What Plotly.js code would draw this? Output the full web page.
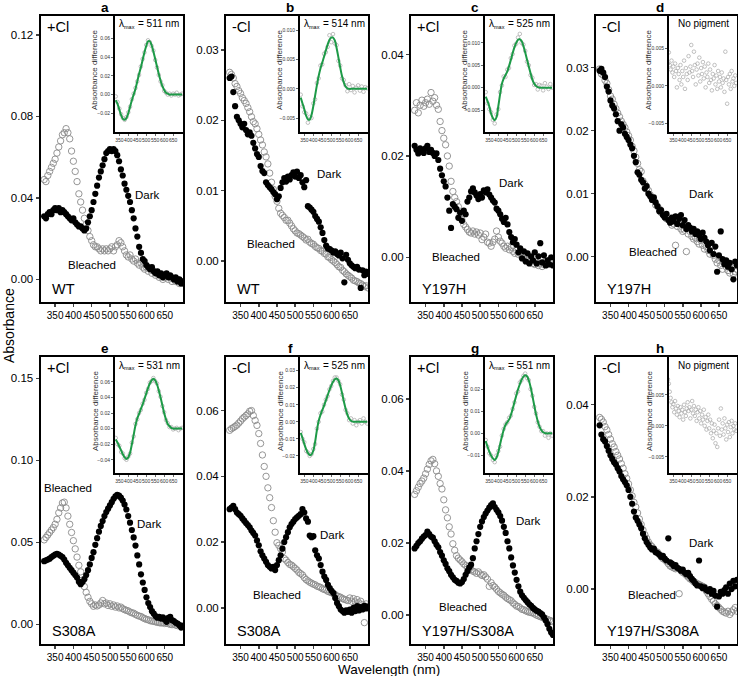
<!DOCTYPE html>
<html><head><meta charset="utf-8">
<script src="https://cdn.plot.ly/plotly-3.0.1.min.js"></script>
<style>html,body{margin:0;padding:0;background:#fff}#chart{width:738px;height:676px}</style>
</head><body><div id="chart"></div>
<script>
// ---------------- DATA ----------------
const wavelength = [320,325,330,335,340,345,350,355,360,365,370,375,380,385,390,395,400,405,410,415,420,425,430,435,440,445,450,455,460,465,470,475,480,485,490,495,500,505,510,515,520,525,530,535,540,545,550,555,560,565,570,575,580,585,590,595,600,605,610,615,620,625,630,635,640,645,650,655,660,665,670,675,680,685,690,695,700];
const insetWavelength = [330,340,350,360,370,380,390,400,410,420,430,440,450,460,470,480,490,500,510,520,530,540,550,560,570,580,590,600,610,620,630,640,650,660,670,680,690,700];
const panelLetters = ['a','b','c','d','e','f','g','h'];
const chlorideLabels = ['+Cl','-Cl','+Cl','-Cl','+Cl','-Cl','+Cl','-Cl'];
const sampleLabels = ['WT','WT','Y197H','Y197H','S308A','S308A','Y197H/S308A','Y197H/S308A'];
const lambdaMax = [511,514,525,null,531,525,551,null];
const xTicks = [350,400,450,500,550,600,650];

const darkA = [0.031,0.030,0.032,0.033,0.032,0.034,0.035,0.034,0.035,0.033,
0.034,0.033,0.032,0.031,0.030,0.029,0.030,0.028,0.027,0.026,
0.026,0.025,0.024,0.025,0.028,0.031,0.034,0.038,0.042,0.046,
0.050,0.053,0.056,0.059,0.062,0.063,0.064,0.063,0.064,0.063,
0.061,0.058,0.054,0.051,0.047,0.044,0.041,0.038,0.034,0.030,
0.025,0.021,0.016,0.013,0.010,0.009,0.007,0.006,0.005,0.006,
0.004,0.003,0.004,0.002,0.003,0.001,0.002,0.003,0.001,0.002,
0.001,0.000,0.001,-0.001,0.000,-0.002,-0.001];
const bleachedA = [0.049,0.048,0.051,0.053,0.055,0.057,0.059,0.062,0.065,0.068,
0.071,0.072,0.074,0.072,0.069,0.063,0.058,0.053,0.048,0.042,
0.038,0.034,0.030,0.027,0.024,0.021,0.019,0.017,0.016,0.016,
0.015,0.014,0.015,0.014,0.015,0.014,0.015,0.016,0.014,0.016,
0.017,0.019,0.018,0.016,0.014,0.012,0.011,0.012,0.010,0.009,
0.010,0.008,0.007,0.008,0.006,0.005,0.006,0.004,0.005,0.003,
0.004,0.002,0.003,0.001,0.002,0.000,0.001,0.002,0.000,0.001,
-0.001,0.000,-0.001,0.000,-0.002,-0.001,-0.002];

const darkB = [0.0260,0.0262,0.0240,0.0220,0.0205,0.0200,0.0195,0.0190,0.0195,0.0186,
0.0180,0.0183,0.0178,0.0168,0.0160,0.0152,0.0148,0.0135,0.0128,0.0125,
0.0112,0.0108,0.0105,0.0102,0.0098,0.0095,0.0088,0.0092,0.0104,0.0112,
0.0118,0.0113,0.0120,0.0116,0.0122,0.0126,0.0120,0.0127,0.0118,0.0122,
0.0112,0.0105,0.0115,0.0078,0.0076,0.0073,0.0070,0.0064,0.0060,0.0056,
0.0048,0.0040,0.0030,0.0022,0.0018,0.0017,0.0015,0.0012,0.0014,0.0010,
0.0008,0.0012,0.0004,-0.0030,0.0009,0.0002,-0.0003,-0.0006,-0.0008,-0.0010,
-0.0008,-0.0012,-0.0038,-0.0013,-0.0020,-0.0015,-0.0018];
const bleachedB = [0.0268,0.0265,0.0260,0.0252,0.0248,0.0242,0.0238,0.0232,0.0228,0.0224,
0.0218,0.0212,0.0205,0.0198,0.0195,0.0188,0.0180,0.0172,0.0165,0.0155,
0.0148,0.0138,0.0125,0.0112,0.0102,0.0092,0.0085,0.0075,0.0068,0.0065,
0.0062,0.0058,0.0058,0.0054,0.0050,0.0046,0.0043,0.0040,0.0039,0.0037,
0.0035,0.0033,0.0030,0.0031,0.0027,0.0025,0.0024,0.0021,0.0019,0.0018,
0.0015,0.0014,0.0011,0.0010,0.0006,0.0005,0.0002,0.0000,-0.0002,-0.0005,
-0.0008,-0.0009,-0.0013,-0.0015,-0.0018,-0.0020,-0.0022,-0.0024,-0.0027,-0.0028,
-0.0029,-0.0031,-0.0032,-0.0034,-0.0036,-0.0035,-0.0038];

const darkC = [0.0220,0.0212,0.0205,0.0215,0.0210,0.0206,0.0215,0.0220,0.0208,0.0212,
0.0206,0.0200,0.0205,0.0192,0.0175,0.0162,0.0150,0.0140,0.0118,0.0092,
0.0058,0.0105,0.0100,0.0095,0.0078,0.0088,0.0072,0.0092,0.0085,0.0110,
0.0118,0.0130,0.0136,0.0128,0.0122,0.0115,0.0125,0.0118,0.0132,0.0128,
0.0134,0.0124,0.0118,0.0112,0.0108,0.0096,0.0092,0.0085,0.0076,0.0070,
0.0078,0.0065,0.0050,0.0040,0.0030,0.0036,0.0025,0.0010,0.0018,-0.0002,
0.0012,-0.0008,0.0008,-0.0012,0.0002,-0.0006,0.0010,-0.0012,0.0002,0.0028,
-0.0010,0.0004,-0.0016,-0.0006,-0.0014,0.0000,-0.0016];
const bleachedC = [0.0290,0.0305,0.0285,0.0300,0.0310,0.0298,0.0305,0.0312,0.0302,0.0325,
0.0308,0.0315,0.0300,0.0292,0.0268,0.0250,0.0235,0.0222,0.0200,0.0180,
0.0150,0.0130,0.0118,0.0110,0.0100,0.0085,0.0074,0.0065,0.0060,0.0055,
0.0050,0.0048,0.0052,0.0046,0.0050,0.0044,0.0048,0.0035,0.0040,0.0046,
0.0030,0.0028,0.0022,0.0030,0.0036,0.0052,0.0040,0.0032,0.0028,0.0022,
0.0018,0.0022,0.0015,0.0020,0.0012,0.0008,0.0014,0.0006,0.0008,0.0000,
0.0004,-0.0004,-0.0006,-0.0010,-0.0005,-0.0012,-0.0014,-0.0010,-0.0016,-0.0012,
-0.0018,-0.0014,-0.0008,-0.0012,-0.0006,-0.0010,-0.0004];

const darkD = [0.0295,0.0298,0.0292,0.0285,0.0270,0.0262,0.0248,0.0240,0.0235,0.0226,
0.0215,0.0200,0.0210,0.0205,0.0195,0.0190,0.0185,0.0178,0.0172,0.0160,
0.0150,0.0134,0.0130,0.0122,0.0118,0.0108,0.0112,0.0100,0.0096,0.0090,
0.0094,0.0086,0.0080,0.0072,0.0074,0.0066,0.0062,0.0068,0.0058,0.0054,
0.0062,0.0056,0.0064,0.0052,0.0060,0.0066,0.0050,0.0058,0.0044,0.0050,
0.0046,0.0040,0.0044,0.0036,0.0040,0.0034,0.0028,0.0038,0.0030,0.0024,
0.0018,0.0010,0.0022,0.0004,0.0016,-0.0024,0.0002,0.0040,-0.0004,-0.0012,
-0.0006,-0.0016,-0.0010,-0.0020,-0.0036,-0.0008,-0.0014];
const bleachedD = [0.0298,0.0290,0.0288,0.0280,0.0275,0.0265,0.0255,0.0250,0.0242,0.0235,
0.0228,0.0222,0.0215,0.0210,0.0205,0.0198,0.0192,0.0185,0.0175,0.0168,
0.0158,0.0148,0.0138,0.0135,0.0120,0.0115,0.0108,0.0105,0.0098,0.0092,
0.0090,0.0082,0.0080,0.0076,0.0070,0.0068,0.0064,0.0060,0.0062,0.0055,
0.0050,0.0052,0.0018,0.0048,0.0052,0.0044,0.0040,0.0042,0.0008,0.0036,
0.0040,0.0032,0.0028,0.0030,0.0024,0.0020,0.0026,0.0018,0.0012,0.0016,
0.0010,0.0004,0.0008,0.0002,-0.0004,-0.0010,-0.0006,-0.0014,-0.0020,-0.0008,
-0.0016,-0.0022,-0.0026,-0.0018,-0.0028,-0.0024,-0.0020];

const darkE = [0.0385,0.0390,0.0395,0.0400,0.0410,0.0418,0.0425,0.0430,0.0425,0.0418,
0.0410,0.0395,0.0375,0.0360,0.0345,0.0330,0.0315,0.0300,0.0285,0.0260,
0.0245,0.0258,0.0275,0.0300,0.0330,0.0365,0.0405,0.0440,0.0485,0.0525,
0.0565,0.0600,0.0630,0.0660,0.0685,0.0705,0.0725,0.0745,0.0765,0.0780,
0.0790,0.0785,0.0772,0.0755,0.0730,0.0700,0.0660,0.0620,0.0575,0.0530,
0.0480,0.0420,0.0365,0.0305,0.0255,0.0210,0.0165,0.0130,0.0105,0.0080,
0.0065,0.0050,0.0040,0.0045,0.0035,0.0042,0.0030,0.0015,0.0040,0.0045,
0.0025,0.0020,0.0010,0.0005,-0.0005,-0.0020,-0.0010];
const bleachedE = [0.0515,0.0530,0.0545,0.0560,0.0575,0.0590,0.0610,0.0640,0.0680,0.0710,
0.0740,0.0745,0.0710,0.0660,0.0610,0.0560,0.0510,0.0460,0.0410,0.0360,
0.0320,0.0270,0.0230,0.0195,0.0165,0.0140,0.0125,0.0110,0.0118,0.0112,
0.0118,0.0130,0.0145,0.0125,0.0130,0.0115,0.0125,0.0110,0.0118,0.0105,
0.0112,0.0100,0.0105,0.0095,0.0090,0.0085,0.0082,0.0075,0.0070,0.0068,
0.0060,0.0055,0.0050,0.0048,0.0040,0.0035,0.0030,0.0028,0.0022,0.0020,
0.0018,0.0015,0.0012,0.0010,0.0008,0.0010,0.0005,0.0008,0.0004,0.0000,
-0.0002,0.0002,-0.0005,-0.0008,-0.0005,-0.0010,-0.0012];

const darkF = [0.0300,0.0305,0.0310,0.0300,0.0290,0.0285,0.0280,0.0272,0.0265,0.0258,
0.0252,0.0245,0.0235,0.0228,0.0220,0.0205,0.0190,0.0172,0.0160,0.0150,
0.0140,0.0130,0.0125,0.0120,0.0125,0.0115,0.0130,0.0145,0.0160,0.0180,
0.0200,0.0215,0.0230,0.0245,0.0255,0.0262,0.0270,0.0275,0.0280,0.0285,
0.0300,0.0290,0.0272,0.0262,0.0220,0.0215,0.0218,0.0175,0.0160,0.0150,
0.0130,0.0110,0.0095,0.0085,0.0070,0.0060,0.0052,0.0045,0.0030,0.0015,
0.0005,-0.0005,-0.0010,-0.0015,-0.0008,-0.0012,-0.0005,-0.0015,0.0000,-0.0010,
0.0005,-0.0008,0.0002,-0.0005,0.0006,-0.0002,0.0004];
const bleachedF = [0.0540,0.0545,0.0548,0.0552,0.0556,0.0562,0.0568,0.0575,0.0580,0.0585,
0.0590,0.0598,0.0600,0.0585,0.0570,0.0555,0.0530,0.0500,0.0465,0.0430,
0.0400,0.0365,0.0335,0.0305,0.0265,0.0230,0.0198,0.0190,0.0180,0.0170,
0.0150,0.0145,0.0138,0.0132,0.0130,0.0125,0.0120,0.0115,0.0108,0.0104,
0.0100,0.0092,0.0086,0.0082,0.0078,0.0075,0.0072,0.0070,0.0066,0.0064,
0.0062,0.0058,0.0056,0.0054,0.0050,0.0048,0.0046,0.0043,0.0040,0.0036,
0.0034,0.0032,0.0028,0.0026,0.0024,0.0022,0.0030,0.0020,0.0028,0.0018,
0.0025,0.0015,0.0020,0.0010,-0.0045,0.0012,0.0005];

const darkG = [0.0185,0.0192,0.0200,0.0205,0.0212,0.0218,0.0222,0.0232,0.0225,0.0218,
0.0215,0.0205,0.0195,0.0188,0.0175,0.0165,0.0152,0.0142,0.0130,0.0122,
0.0112,0.0105,0.0098,0.0095,0.0090,0.0088,0.0092,0.0100,0.0112,0.0122,
0.0132,0.0140,0.0158,0.0185,0.0205,0.0225,0.0245,0.0260,0.0272,0.0282,
0.0290,0.0298,0.0305,0.0310,0.0300,0.0292,0.0285,0.0275,0.0262,0.0245,
0.0228,0.0205,0.0185,0.0160,0.0138,0.0118,0.0098,0.0080,0.0065,0.0055,
0.0048,0.0042,0.0036,0.0030,0.0026,0.0020,0.0016,0.0012,0.0010,0.0006,
0.0002,-0.0006,-0.0015,-0.0025,-0.0038,-0.0048,-0.0055];
const bleachedG = [0.0335,0.0345,0.0355,0.0365,0.0372,0.0380,0.0392,0.0405,0.0418,0.0428,
0.0432,0.0420,0.0400,0.0385,0.0365,0.0350,0.0320,0.0292,0.0270,0.0245,
0.0225,0.0198,0.0180,0.0165,0.0158,0.0153,0.0148,0.0142,0.0138,0.0134,
0.0130,0.0126,0.0122,0.0120,0.0116,0.0120,0.0114,0.0110,0.0112,0.0106,
0.0100,0.0080,0.0090,0.0082,0.0078,0.0072,0.0066,0.0062,0.0058,0.0055,
0.0050,0.0046,0.0043,0.0040,0.0034,0.0030,0.0025,0.0024,0.0020,0.0016,
0.0015,0.0012,0.0010,0.0008,0.0007,0.0006,0.0003,0.0000,-0.0002,-0.0004,
-0.0006,-0.0008,-0.0010,-0.0012,-0.0014,-0.0016,-0.0018];

const darkH = [0.0355,0.0335,0.0325,0.0320,0.0310,0.0300,0.0290,0.0282,0.0275,0.0270,
0.0262,0.0255,0.0245,0.0238,0.0232,0.0225,0.0215,0.0200,0.0185,0.0168,
0.0155,0.0148,0.0140,0.0132,0.0120,0.0110,0.0102,0.0096,0.0090,0.0086,
0.0088,0.0080,0.0078,0.0075,0.0070,0.0072,0.0066,0.0062,0.0110,0.0058,
0.0055,0.0050,0.0052,0.0046,0.0044,0.0040,0.0042,0.0036,0.0032,0.0035,
0.0028,0.0022,0.0018,0.0012,0.0008,0.0062,0.0006,0.0002,0.0004,-0.0002,
-0.0004,0.0000,-0.0010,-0.0004,-0.0014,-0.0038,-0.0016,-0.0006,-0.0010,-0.0002,
0.0004,-0.0010,0.0012,0.0000,0.0018,0.0006,0.0020];
const bleachedH = [0.0372,0.0368,0.0362,0.0352,0.0345,0.0335,0.0325,0.0315,0.0308,0.0298,
0.0290,0.0282,0.0272,0.0262,0.0250,0.0240,0.0228,0.0215,0.0202,0.0188,
0.0178,0.0165,0.0152,0.0140,0.0128,0.0118,0.0110,0.0102,0.0096,0.0092,
0.0086,0.0082,0.0080,0.0075,0.0070,0.0066,0.0064,0.0060,0.0055,0.0050,
0.0048,0.0046,0.0044,0.0045,-0.0010,0.0040,0.0036,0.0034,0.0030,0.0026,
0.0022,0.0020,0.0016,0.0014,0.0012,0.0010,0.0008,0.0006,0.0004,-0.0004,
-0.0010,-0.0016,-0.0022,-0.0026,-0.0032,-0.0036,-0.0040,-0.0044,-0.0048,-0.0050,
-0.0052,-0.0048,-0.0055,-0.0050,-0.0045,-0.0040,-0.0048];

// inset difference spectra (points) and template fits, on insetWavelength
const diffA = [-0.002,-0.008,-0.015,-0.021,-0.025,-0.027,-0.024,-0.019,-0.013,-0.005,0.001,0.007,0.014,0.021,0.030,0.038,0.045,0.053,0.058,0.056,0.052,0.047,0.037,0.029,0.021,0.014,0.010,0.004,0.002,0.000,0.001,-0.001,0.001,0.000,0.002,-0.001,0.000,0.001];
const fitA = [-0.006,-0.010,-0.016,-0.022,-0.026,-0.027,-0.025,-0.020,-0.013,-0.006,0.000,0.006,0.014,0.022,0.029,0.037,0.045,0.052,0.057,0.057,0.053,0.046,0.038,0.030,0.022,0.015,0.009,0.005,0.002,0.001,0.000,0.000,0.000,0.000,0.000,0.000,0.000,0.000];
const diffB = [-0.0010,-0.0030,-0.0040,-0.0042,-0.0058,-0.0048,-0.0050,-0.0025,-0.0018,0.0010,0.0018,0.0040,0.0042,0.0060,0.0063,0.0072,0.0092,0.0080,0.0094,0.0078,0.0075,0.0048,0.0040,0.0018,0.0015,0.0006,-0.0004,0.0008,-0.0002,0.0005,-0.0006,0.0002,0.0006,-0.0003,0.0004,-0.0005,0.0003,0.0001];
const fitB = [-0.0015,-0.0025,-0.0035,-0.0046,-0.0052,-0.0053,-0.0045,-0.0030,-0.0012,0.0006,0.0022,0.0035,0.0045,0.0055,0.0066,0.0076,0.0084,0.0088,0.0088,0.0083,0.0070,0.0054,0.0037,0.0022,0.0011,0.0004,0.0001,0.0000,0.0000,0.0000,0.0000,0.0000,0.0000,0.0000,0.0000,0.0000,0.0000,0.0000];
const diffC = [-0.0010,-0.0035,-0.0048,-0.0055,-0.0072,-0.0080,-0.0060,-0.0048,-0.0010,0.0005,0.0025,0.0024,0.0040,0.0044,0.0066,0.0075,0.0094,0.0098,0.0112,0.0120,0.0100,0.0096,0.0082,0.0058,0.0050,0.0028,0.0022,0.0006,0.0008,-0.0004,0.0006,0.0004,-0.0006,0.0010,0.0002,-0.0003,0.0008,0.0000];
const fitC = [-0.0020,-0.0030,-0.0042,-0.0058,-0.0068,-0.0073,-0.0066,-0.0042,-0.0015,0.0008,0.0020,0.0028,0.0036,0.0048,0.0062,0.0077,0.0090,0.0100,0.0107,0.0108,0.0104,0.0093,0.0079,0.0063,0.0047,0.0032,0.0018,0.0009,0.0004,0.0001,0.0000,0.0000,0.0000,0.0000,0.0000,0.0000,0.0000,0.0000];
const diffD = [0.0030,0.0045,0.0028,0.0022,0.0034,0.0018,0.0026,0.0012,0.0030,0.0020,
-0.0002,0.0024,0.0016,0.0008,0.0028,0.0002,0.0020,0.0012,0.0034,-0.0004,
0.0024,0.0016,0.0008,0.0040,0.0018,0.0026,0.0055,0.0020,0.0012,0.0046,
0.0028,0.0002,0.0022,0.0030,0.0014,0.0038,0.0006,0.0024,0.0016,0.0032,
0.0010,0.0026,-0.0002,0.0018,0.0012,0.0030,0.0004,0.0022,0.0008,-0.0006,
0.0016,0.0010,0.0028,0.0002,0.0014,-0.0004,0.0020,0.0006,0.0012,-0.0002,
0.0018,0.0004,0.0010,-0.0008,0.0046,0.0008,-0.0024,0.0012,0.0002,0.0016,
-0.0004,0.0020,0.0006,0.0010,0.0000,0.0014,0.0004];
const diffE = [-0.012,-0.020,-0.022,-0.030,-0.032,-0.038,-0.040,-0.036,-0.032,-0.018,-0.010,0.006,0.012,0.020,0.024,0.032,0.037,0.046,0.051,0.059,0.061,0.065,0.061,0.058,0.048,0.041,0.029,0.021,0.011,0.007,0.002,0.002,-0.001,0.000,0.001,-0.002,0.000,0.001];
const fitE = [-0.014,-0.018,-0.023,-0.028,-0.033,-0.037,-0.039,-0.037,-0.031,-0.020,-0.008,0.004,0.013,0.019,0.025,0.031,0.038,0.045,0.052,0.058,0.062,0.064,0.062,0.057,0.049,0.040,0.030,0.020,0.012,0.006,0.003,0.001,0.000,0.000,0.000,0.000,0.000,0.000];
const diffF = [-0.006,-0.010,-0.012,-0.017,-0.018,-0.020,-0.019,-0.016,-0.013,-0.004,0.000,0.005,0.006,0.010,0.013,0.015,0.019,0.021,0.024,0.026,0.026,0.024,0.022,0.016,0.013,0.007,0.005,0.001,0.002,-0.001,0.001,-0.002,0.000,0.001,-0.001,0.002,0.000,-0.001];
const fitF = [-0.0065,-0.0095,-0.0130,-0.0160,-0.0182,-0.0195,-0.0192,-0.0170,-0.0120,-0.0050,0.0005,0.0040,0.0068,0.0095,0.0125,0.0155,0.0185,0.0212,0.0235,0.0250,0.0254,0.0243,0.0213,0.0170,0.0122,0.0078,0.0042,0.0018,0.0006,0.0001,0.0000,0.0000,0.0000,0.0000,0.0000,0.0000,0.0000,0.0000];
const diffG = [-0.003,-0.006,-0.009,-0.010,-0.012,-0.013,-0.010,-0.008,-0.006,-0.001,0.002,0.004,0.005,0.007,0.008,0.011,0.014,0.018,0.019,0.023,0.024,0.026,0.027,0.025,0.024,0.020,0.017,0.012,0.009,0.005,0.003,0.001,0.001,-0.001,0.000,-0.002,0.000,-0.001];
const fitG = [-0.0035,-0.0060,-0.0082,-0.0100,-0.0113,-0.0120,-0.0110,-0.0085,-0.0050,-0.0015,0.0015,0.0038,0.0050,0.0062,0.0082,0.0110,0.0140,0.0170,0.0198,0.0222,0.0242,0.0256,0.0262,0.0258,0.0240,0.0210,0.0170,0.0128,0.0088,0.0055,0.0030,0.0014,0.0005,0.0001,0.0000,0.0000,0.0000,0.0000];
const diffH = [0.0075,0.0068,0.0055,0.0045,0.0038,0.0030,0.0035,0.0022,0.0040,0.0028,
0.0018,0.0032,0.0024,0.0014,0.0030,0.0020,0.0026,0.0010,0.0034,0.0022,
0.0016,0.0028,0.0038,0.0024,0.0030,0.0012,0.0026,0.0040,0.0020,0.0032,
0.0016,0.0026,0.0008,0.0022,0.0030,0.0012,0.0024,0.0004,0.0018,0.0010,
0.0026,0.0000,0.0014,-0.0006,0.0008,0.0018,-0.0004,0.0010,-0.0012,0.0004,
-0.0020,-0.0008,0.0002,-0.0028,-0.0012,-0.0034,-0.0004,0.0010,-0.0016,0.0028,
-0.0006,0.0004,-0.0014,0.0012,-0.0004,-0.0022,0.0002,-0.0010,0.0006,-0.0018,
-0.0002,0.0008,-0.0012,0.0000,-0.0006,0.0004,-0.0008];

const mainYTicks = [[0,0.04,0.08,0.12],[0,0.01,0.02,0.03],[0,0.02,0.04],[0,0.01,0.02,0.03],
                    [0,0.05,0.10,0.15],[0,0.02,0.04,0.06],[0,0.02,0.04,0.06],[0,0.02,0.04]];
const insetYTicks = [[-0.02,0,0.02,0.04,0.06],[-0.005,0,0.005,0.010],[-0.005,0,0.005,0.010],[-0.005,0,0.005],
                     [-0.04,-0.02,0,0.02,0.04,0.06],[-0.02,-0.01,0,0.01,0.02,0.03],[-0.01,0,0.01,0.02],[-0.005,0,0.005]];

// ---------------- STYLE / GEOMETRY ----------------
const darkSeries = [darkA,darkB,darkC,darkD,darkE,darkF,darkG,darkH];
const bleachedSeries = [bleachedA,bleachedB,bleachedC,bleachedD,bleachedE,bleachedF,bleachedG,bleachedH];
const diffSeries = [diffA,diffB,diffC,diffD,diffE,diffF,diffG,diffH];
const fitSeries = [fitA,fitB,fitC,null,fitE,fitF,fitG,null];

const mainYRange = [[-0.0111,0.1293],[-0.0058,0.0348],[-0.0088,0.0476],[-0.0072,0.0382],
                    [-0.012,0.163],[-0.011,0.0763],[-0.008,0.0716],[-0.0119,0.0503]];
const insetYRange = [[-0.040,0.084],[-0.0074,0.0125],[-0.0099,0.016],[-0.0062,0.0094],
                     [-0.057,0.092],[-0.030,0.038],[-0.0179,0.0345],[-0.0076,0.0111]];
const mainYFmt = ['.2f','.2f','.2f','.2f','.2f','.2f','.2f','.2f'];
const insetYFmt = ['.2f','.3f','.3f','.3f','.2f','.2f','.2f','.3f'];

const W = 738, H = 676;
const colLeft = [40.5, 226, 411, 596], colRight = [183, 368, 553, 737];
const rowTop = [16, 357], rowBottom = [302, 644];
const letterMid = [7.5, 348];
const insetW = 68, insetH = 116;
const darkLabelPos = [[147,195],[329,174],[511,183],[701,194],[149,524],[332,535],[528,521],[701,543]];
const bleachedLabelPos = [[92,265],[271,244],[456,257],[653,252],[68,488],[277,595],[463,607],[652,595]];

const FONT = 'Liberation Sans, Arial, sans-serif';
const fx = x => x / W, fy = y => 1 - y / H;

const traces = [], layout = {
  width: W, height: H, margin: {l:0, r:0, t:0, b:0},
  paper_bgcolor: '#fff', plot_bgcolor: 'rgba(0,0,0,0)', showlegend: false,
  font: {family: FONT, color: '#000'}, annotations: []
};

function axName(a, n) { return n === 1 ? a + 'axis' : a + 'axis' + n; }
function axRef(a, n) { return n === 1 ? a : a + n; }
function note(text, x, y, size, extra) {
  return Object.assign({text: text, x: fx(x), y: fy(y), xref: 'paper', yref: 'paper', showarrow: false,
    xanchor: 'center', yanchor: 'middle', font: {size: size, family: FONT, color: '#000'}}, extra || {});
}

for (let i = 0; i < 8; i++) {
  const col = i % 4, row = Math.floor(i / 4);
  const L = colLeft[col], R = colRight[col], T = rowTop[row], B = rowBottom[row];
  const m = 2 * i + 1, s = 2 * i + 2;
  layout[axName('x', m)] = {
    domain: [fx(L), fx(R)], range: [310, 700], anchor: axRef('y', m),
    tickvals: xTicks, tickangle: 0, ticks: 'outside', ticklen: 3, tickwidth: 1.5,
    showline: true, linewidth: 2, linecolor: '#000', mirror: true,
    showgrid: false, zeroline: false, tickfont: {size: 10, family: FONT, color: '#000'}
  };
  layout[axName('y', m)] = {
    domain: [fy(B), fy(T)], range: mainYRange[i], anchor: axRef('x', m),
    tickvals: mainYTicks[i], tickformat: mainYFmt[i], ticks: 'outside', ticklen: 3, tickwidth: 1.5,
    showline: true, linewidth: 2, linecolor: '#000', mirror: true,
    showgrid: false, zeroline: false, tickfont: {size: 11.5, family: FONT, color: '#000'}
  };
  const iL = R - insetW, iB = T + insetH;
  layout[axName('x', s)] = {
    domain: [fx(iL), fx(R)], range: [326, 705], anchor: axRef('y', s),
    tickvals: xTicks, tickangle: 0, ticks: 'outside', ticklen: 2, tickwidth: 0.8,
    showline: true, linewidth: 2, linecolor: '#000', mirror: true,
    showgrid: false, zeroline: false, tickfont: {size: 5, family: FONT, color: '#333'}
  };
  layout[axName('y', s)] = {
    domain: [fy(iB), fy(T)], range: insetYRange[i], anchor: axRef('x', s),
    tickvals: insetYTicks[i], tickformat: insetYFmt[i], ticks: 'outside', ticklen: 2, tickwidth: 0.8,
    showline: true, linewidth: 2, linecolor: '#000', mirror: true,
    showgrid: false, zeroline: false, tickfont: {size: 5, family: FONT, color: '#333'}
  };

  traces.push({x: wavelength, y: bleachedSeries[i], xaxis: axRef('x', m), yaxis: axRef('y', m),
    type: 'scatter', mode: 'markers', hoverinfo: 'skip',
    marker: {symbol: 'circle-open', size: 6.4, color: '#8a8a8a', line: {width: 0.9}}});
  traces.push({x: wavelength, y: darkSeries[i], xaxis: axRef('x', m), yaxis: axRef('y', m),
    type: 'scatter', mode: 'markers', hoverinfo: 'skip',
    marker: {symbol: 'circle', size: 6.2, color: '#000', line: {width: 0}}});

  const dx = fitSeries[i] ? insetWavelength : wavelength;
  traces.push({x: dx, y: diffSeries[i], xaxis: axRef('x', s), yaxis: axRef('y', s),
    type: 'scatter', mode: 'markers', hoverinfo: 'skip',
    marker: {symbol: 'circle-open', size: 3.6, color: '#a6a6a6', line: {width: 0.7}}});
  if (fitSeries[i]) {
    traces.push({x: insetWavelength, y: fitSeries[i], xaxis: axRef('x', s), yaxis: axRef('y', s),
      type: 'scatter', mode: 'lines', hoverinfo: 'skip',
      line: {color: '#1d9a47', width: 2, shape: 'spline', smoothing: 1}});
  }

  const ann = layout.annotations;
  ann.push(note('<b>' + panelLetters[i] + '</b>', (L + R) / 2 - 7, letterMid[row], 13.5, {borderpad: 0}));
  ann.push(note(chlorideLabels[i], L + 4, T + 11, 14.5, {xanchor: 'left'}));
  ann.push(note(sampleLabels[i], L + 9, B - 13, 14.5, {xanchor: 'left'}));
  ann.push(note('Dark', darkLabelPos[i][0], darkLabelPos[i][1], 11.5));
  ann.push(note('Bleached', bleachedLabelPos[i][0], bleachedLabelPos[i][1], 11.5));
  if (lambdaMax[i]) {
    ann.push(note('λ', iL + 6.5, T + 8, 10));
    ann.push(note('max', iL + 14.5, T + 10.5, 5.5));
    ann.push(note('= ' + lambdaMax[i] + ' nm', iL + 20.5, T + 8, 10, {xanchor: 'left'}));
  } else {
    ann.push(note('No pigment', iL + insetW / 2, T + 8, 10));
  }
  ann.push(note('Absorbance difference', iL - 20, T + insetH / 2 - 4, 8, {textangle: -90, font: {size: 8, family: FONT, color: '#333'}}));
}
layout.annotations.push(note('Absorbance', 9, 326, 14, {textangle: -90}));
layout.annotations.push(note('Wavelength (nm)', 389, 669, 13.5));

Plotly.newPlot('chart', traces, layout, {displayModeBar: false, staticPlot: true});
</script></body></html>
